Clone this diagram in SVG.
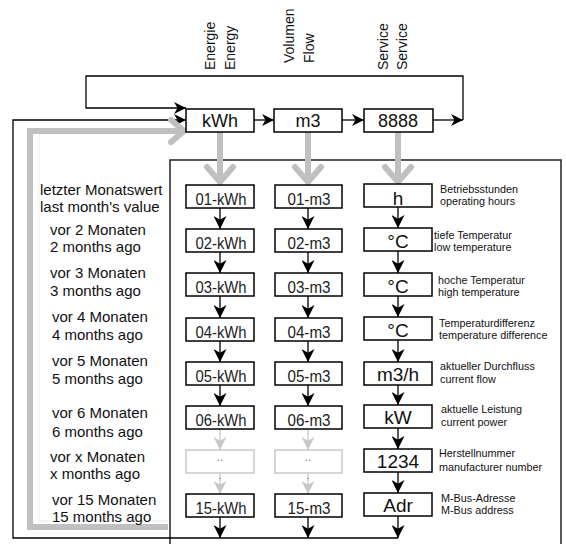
<svg xmlns="http://www.w3.org/2000/svg" width="566" height="544" viewBox="0 0 566 544">
<style>
.bx{fill:#fff;stroke:#000;stroke-width:1.5}
.gbx{fill:#fff;stroke:#c8c8c8;stroke-width:1.5}
.ln{fill:none;stroke:#000;stroke-width:1.3}
.gl{fill:none;stroke:#c0c0c0;stroke-width:6}
.gt{fill:none;stroke:#c8c8c8;stroke-width:1.3}
.t18{font-family:"Liberation Sans",Arial,sans-serif;font-size:18px;fill:#111;text-anchor:middle}
.t19{font-family:"Liberation Sans",Arial,sans-serif;font-size:19px;fill:#111;text-anchor:middle}
.tn{font-family:"Liberation Sans Narrow","Liberation Sans",Arial,sans-serif;font-size:16px;fill:#222;text-anchor:middle}
.tl{font-family:"Liberation Sans",Arial,sans-serif;font-size:15px;fill:#111}
.ts{font-family:"Liberation Sans",Arial,sans-serif;font-size:10.8px;fill:#111}
.tr{font-family:"Liberation Sans",Arial,sans-serif;font-size:14px;fill:#111}
.dot{font-family:"Liberation Sans",Arial,sans-serif;font-size:12px;fill:#888;text-anchor:middle}
</style>
<defs>
<marker id="ah" viewBox="0 0 12 12" refX="12" refY="6" markerWidth="12" markerHeight="12" markerUnits="userSpaceOnUse" orient="auto"><path d="M0,0 L12,6 L0,12 L3.5,6 z" fill="#000"/></marker>
<marker id="av" viewBox="0 0 12 12" refX="12" refY="6" markerWidth="13" markerHeight="13" markerUnits="userSpaceOnUse" orient="auto"><path d="M0,0 L12,6 L0,12 L3.5,6 z" fill="#000"/></marker>
<marker id="ag" viewBox="0 0 12 12" refX="12" refY="6" markerWidth="13" markerHeight="13" markerUnits="userSpaceOnUse" orient="auto"><path d="M0,0 L12,6 L0,12 L3.5,6 z" fill="#c8c8c8"/></marker>
</defs>

<g id="frame">
<rect x="170" y="160" width="391" height="390" fill="none" stroke="#222" stroke-width="1.5"/>
</g>

<g id="connectors">
<line class="ln" x1="433" y1="120" x2="463" y2="120" marker-end="url(#ah)"/>
<polyline class="ln" points="463,120 463,76 86,76 86,108 186,108" marker-end="url(#ah)"/>
<line class="ln" x1="254" y1="120" x2="274" y2="120" marker-end="url(#ah)"/>
<line class="ln" x1="342" y1="120" x2="364" y2="120" marker-end="url(#ah)"/>
<polyline class="ln" points="398,538 13,538 13,120 186,120" marker-end="url(#ah)"/>
<line x1="39" y1="134" x2="39" y2="521" stroke="#ebebeb" stroke-width="1"/>
<line x1="39" y1="521" x2="168" y2="521" stroke="#ebebeb" stroke-width="1"/>
<polyline class="gl" points="168,527 30,527 30,131 183,131"/>
<polyline class="gl" points="171,120 184,131 171,142" stroke-linecap="round"/>
<line class="gl" x1="220" y1="132" x2="220" y2="182"/>
<polyline class="gl" points="207,167 220,182 233,167" stroke-linecap="round"/>
<line class="gl" x1="308" y1="132" x2="308" y2="182"/>
<polyline class="gl" points="295,167 308,182 321,167" stroke-linecap="round"/>
<line class="gl" x1="398" y1="132" x2="398" y2="182"/>
<polyline class="gl" points="385,167 398,182 411,167" stroke-linecap="round"/>
<line class="ln" x1="220" y1="208" x2="220" y2="229" marker-end="url(#av)"/>
<line class="ln" x1="220" y1="252" x2="220" y2="273" marker-end="url(#av)"/>
<line class="ln" x1="220" y1="296" x2="220" y2="318" marker-end="url(#av)"/>
<line class="ln" x1="220" y1="341" x2="220" y2="362" marker-end="url(#av)"/>
<line class="ln" x1="220" y1="385" x2="220" y2="406" marker-end="url(#av)"/>
<line class="gt" x1="220" y1="429" x2="220" y2="450" marker-end="url(#ag)"/>
<line class="gt" x1="220" y1="473" x2="220" y2="494" marker-end="url(#ag)"/>
<line class="ln" x1="220" y1="517" x2="220" y2="538" marker-end="url(#av)"/>
<line class="ln" x1="308" y1="208" x2="308" y2="229" marker-end="url(#av)"/>
<line class="ln" x1="308" y1="252" x2="308" y2="273" marker-end="url(#av)"/>
<line class="ln" x1="308" y1="296" x2="308" y2="318" marker-end="url(#av)"/>
<line class="ln" x1="308" y1="341" x2="308" y2="362" marker-end="url(#av)"/>
<line class="ln" x1="308" y1="385" x2="308" y2="406" marker-end="url(#av)"/>
<line class="gt" x1="308" y1="429" x2="308" y2="450" marker-end="url(#ag)"/>
<line class="gt" x1="308" y1="473" x2="308" y2="494" marker-end="url(#ag)"/>
<line class="ln" x1="308" y1="517" x2="308" y2="538" marker-end="url(#av)"/>
<line class="ln" x1="398" y1="207" x2="398" y2="228" marker-end="url(#av)"/>
<line class="ln" x1="398" y1="251" x2="398" y2="273" marker-end="url(#av)"/>
<line class="ln" x1="398" y1="296" x2="398" y2="317" marker-end="url(#av)"/>
<line class="ln" x1="398" y1="340" x2="398" y2="362" marker-end="url(#av)"/>
<line class="ln" x1="398" y1="385" x2="398" y2="405" marker-end="url(#av)"/>
<line class="ln" x1="398" y1="428" x2="398" y2="449" marker-end="url(#av)"/>
<line class="ln" x1="398" y1="472" x2="398" y2="493" marker-end="url(#av)"/>
<line class="ln" x1="398" y1="516" x2="398" y2="538" marker-end="url(#av)"/>
</g>

<g id="top-labels">
<text class="tr" transform="translate(215,70) rotate(-90)">Energie</text>
<text class="tr" transform="translate(235,70) rotate(-90)">Energy</text>
<text class="tr" transform="translate(294,63) rotate(-90)">Volumen</text>
<text class="tr" transform="translate(314,63) rotate(-90)">Flow</text>
<text class="tr" transform="translate(388,70) rotate(-90)">Service</text>
<text class="tr" transform="translate(407,70) rotate(-90)">Service</text>
</g>

<g id="node-kWh"><rect class="bx" x="186" y="109" width="68" height="23"/><text class="t18" x="220" y="127">kWh</text></g>
<g id="node-m3"><rect class="bx" x="274" y="109" width="68" height="23"/><text class="t18" x="308" y="127">m3</text></g>
<g id="node-8888"><rect class="bx" x="364" y="109" width="69" height="23"/><text class="t18" x="398" y="127">8888</text></g>

<g id="col-energy">
<g id="e01"><rect class="bx" x="186" y="185" width="68" height="23"/><text class="tn" x="221" y="205" textLength="51" lengthAdjust="spacingAndGlyphs">01-kWh</text></g>
<g id="e02"><rect class="bx" x="186" y="229" width="68" height="23"/><text class="tn" x="221" y="249" textLength="51" lengthAdjust="spacingAndGlyphs">02-kWh</text></g>
<g id="e03"><rect class="bx" x="186" y="273" width="68" height="23"/><text class="tn" x="221" y="293" textLength="51" lengthAdjust="spacingAndGlyphs">03-kWh</text></g>
<g id="e04"><rect class="bx" x="186" y="318" width="68" height="23"/><text class="tn" x="221" y="338" textLength="51" lengthAdjust="spacingAndGlyphs">04-kWh</text></g>
<g id="e05"><rect class="bx" x="186" y="362" width="68" height="23"/><text class="tn" x="221" y="382" textLength="51" lengthAdjust="spacingAndGlyphs">05-kWh</text></g>
<g id="e06"><rect class="bx" x="186" y="406" width="68" height="23"/><text class="tn" x="221" y="426" textLength="51" lengthAdjust="spacingAndGlyphs">06-kWh</text></g>
<g id="ex"><rect class="gbx" x="186" y="450" width="68" height="23"/><text class="dot" x="220" y="461">..</text><text class="dot" x="220" y="479">.</text></g>
<g id="e15"><rect class="bx" x="186" y="494" width="68" height="23"/><text class="tn" x="221" y="514" textLength="51" lengthAdjust="spacingAndGlyphs">15-kWh</text></g>
</g>

<g id="col-flow">
<g id="f01"><rect class="bx" x="275" y="185" width="67" height="23"/><text class="tn" x="309" y="205" textLength="43" lengthAdjust="spacingAndGlyphs">01-m3</text></g>
<g id="f02"><rect class="bx" x="275" y="229" width="67" height="23"/><text class="tn" x="309" y="249" textLength="43" lengthAdjust="spacingAndGlyphs">02-m3</text></g>
<g id="f03"><rect class="bx" x="275" y="273" width="67" height="23"/><text class="tn" x="309" y="293" textLength="43" lengthAdjust="spacingAndGlyphs">03-m3</text></g>
<g id="f04"><rect class="bx" x="275" y="318" width="67" height="23"/><text class="tn" x="309" y="338" textLength="43" lengthAdjust="spacingAndGlyphs">04-m3</text></g>
<g id="f05"><rect class="bx" x="275" y="362" width="67" height="23"/><text class="tn" x="309" y="382" textLength="43" lengthAdjust="spacingAndGlyphs">05-m3</text></g>
<g id="f06"><rect class="bx" x="275" y="406" width="67" height="23"/><text class="tn" x="309" y="426" textLength="43" lengthAdjust="spacingAndGlyphs">06-m3</text></g>
<g id="fx"><rect class="gbx" x="275" y="450" width="67" height="23"/><text class="dot" x="308" y="461">..</text><text class="dot" x="308" y="479">.</text></g>
<g id="f15"><rect class="bx" x="275" y="494" width="67" height="23"/><text class="tn" x="309" y="514" textLength="43" lengthAdjust="spacingAndGlyphs">15-m3</text></g>
</g>

<g id="col-service">
<g id="s1"><rect class="bx" x="364" y="184" width="68" height="23"/><text class="t19" x="398" y="205">h</text>
<text class="ts" x="440" y="193">Betriebsstunden</text><text class="ts" x="440" y="205">operating hours</text></g>
<g id="s2"><rect class="bx" x="364" y="228" width="68" height="23"/><text class="t19" x="398" y="248">°C</text>
<text class="ts" x="434" y="239">tiefe Temperatur</text><text class="ts" x="434" y="251">low temperature</text></g>
<g id="s3"><rect class="bx" x="364" y="273" width="68" height="23"/><text class="t19" x="398" y="293">°C</text>
<text class="ts" x="438" y="284">hoche Temperatur</text><text class="ts" x="438" y="296">high temperature</text></g>
<g id="s4"><rect class="bx" x="364" y="317" width="68" height="23"/><text class="t19" x="398" y="337">°C</text>
<text class="ts" x="439" y="327">Temperaturdifferenz</text><text class="ts" x="439" y="339">temperature difference</text></g>
<g id="s5"><rect class="bx" x="364" y="362" width="68" height="23"/><text class="t19" x="398" y="381">m3/h</text>
<text class="ts" x="440" y="370">aktueller Durchfluss</text><text class="ts" x="440" y="383">current flow</text></g>
<g id="s6"><rect class="bx" x="364" y="405" width="68" height="23"/><text class="t19" x="398" y="424">kW</text>
<text class="ts" x="441" y="413">aktuelle Leistung</text><text class="ts" x="441" y="426">current power</text></g>
<g id="s7"><rect class="bx" x="364" y="449" width="68" height="23"/><text class="t19" x="398" y="468">1234</text>
<text class="ts" x="439" y="457">Herstellnummer</text><text class="ts" x="439" y="471">manufacturer number</text></g>
<g id="s8"><rect class="bx" x="364" y="493" width="68" height="23"/><text class="t19" x="398" y="512">Adr</text>
<text class="ts" x="441" y="502">M-Bus-Adresse</text><text class="ts" x="441" y="514">M-Bus address</text></g>
</g>

<g id="month-labels">
<text class="tl" x="40" y="195">letzter Monatswert</text><text class="tl" x="40" y="212">last month's value</text>
<text class="tl" x="50" y="235">vor 2 Monaten</text><text class="tl" x="50" y="252">2 months ago</text>
<text class="tl" x="50" y="278">vor 3 Monaten</text><text class="tl" x="50" y="296">3 months ago</text>
<text class="tl" x="52" y="322">vor 4 Monaten</text><text class="tl" x="52" y="340">4 months ago</text>
<text class="tl" x="52" y="366">vor 5 Monaten</text><text class="tl" x="52" y="384">5 months ago</text>
<text class="tl" x="52" y="418">vor 6 Monaten</text><text class="tl" x="52" y="437">6 months ago</text>
<text class="tl" x="50" y="462">vor x Monaten</text><text class="tl" x="50" y="479">x months ago</text>
<text class="tl" x="52" y="505">vor 15 Monaten</text><text class="tl" x="52" y="522">15 months ago</text>
</g>
</svg>
